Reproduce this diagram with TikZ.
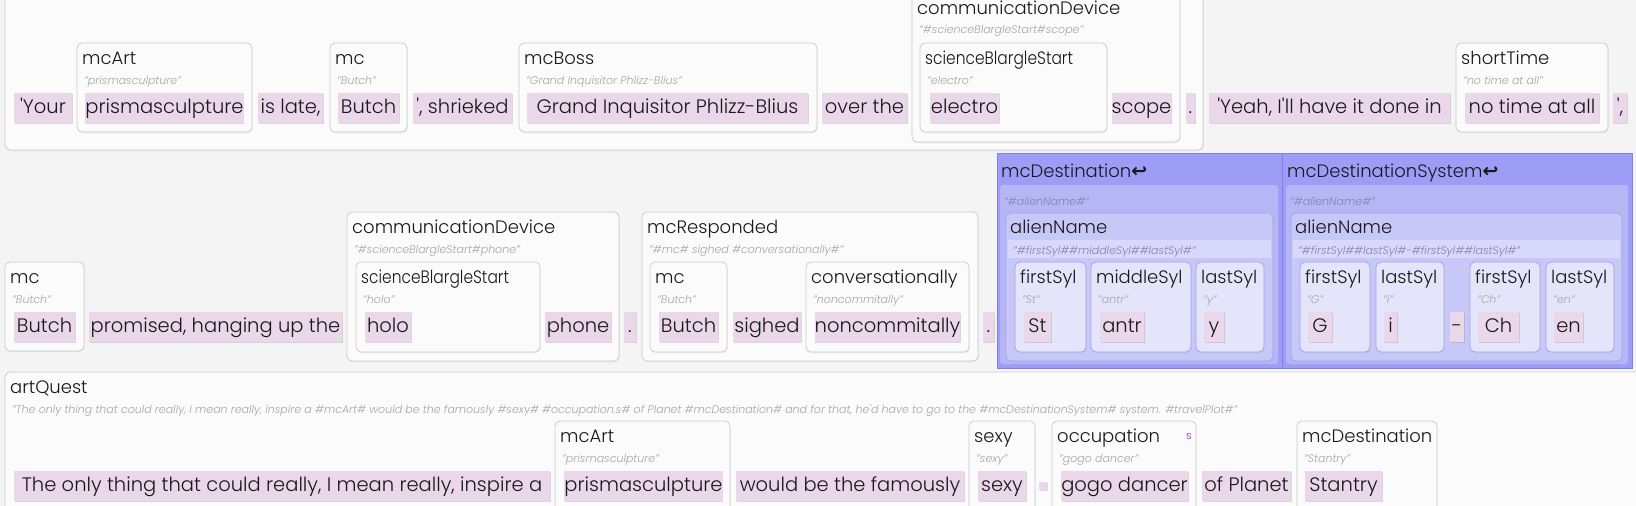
\documentclass[tikz,border=0pt]{standalone}
\usepackage{fontspec}
\usepackage{graphicx}
\setmainfont{Poppins}[UprightFont=* Light, ItalicFont=* Light Italic]
\newfontfamily\symfont{DejaVu Sans}
\usetikzlibrary{shadows}
\definecolor{bg}{RGB}{244,244,244}
\definecolor{chipc}{RGB}{234,216,234}
\definecolor{boxc}{RGB}{251,251,251}
\definecolor{boxd}{RGB}{204,204,204}
\definecolor{subc}{RGB}{165,165,165}
\definecolor{subb}{RGB}{130,130,175}
\definecolor{txt}{RGB}{25,25,25}
\definecolor{blueA}{RGB}{157,157,247}
\definecolor{blueB}{RGB}{182,182,247}
\definecolor{blueC}{RGB}{200,200,248}
\definecolor{blueD}{RGB}{216,216,250}
\definecolor{blueE}{RGB}{228,228,251}
\definecolor{blueL}{RGB}{128,128,225}
\definecolor{blueM}{RGB}{165,165,232}
\definecolor{purp}{RGB}{150,40,230}
\newcommand\arr{{\symfont\bfseries\fontsize{19}{20}\selectfont\char"21A9}}
\newcommand\q{\textquotesingle}
\newcommand\sbs{\scalebox{0.86}[1]{scienceBlargleStart}}
\tikzset{
  gbox/.style={draw=boxd, fill=boxc, rounded corners=5pt, line width=0.8pt, inner sep=0pt,
    drop shadow={shadow xshift=0.6pt, shadow yshift=-1pt, opacity=0.14}},
  sylbox/.style={draw=blueM, fill=blueE, rounded corners=5pt, line width=0.8pt, inner sep=0pt,
    drop shadow={shadow xshift=0.6pt, shadow yshift=-1pt, opacity=0.12}},
  abox/.style={draw=blueM, fill=blueC, rounded corners=5pt, line width=0.8pt, inner sep=0pt,
    drop shadow={shadow xshift=0.6pt, shadow yshift=-1pt, opacity=0.12}},
  bluebox/.style={draw=blueL, fill=blueA, line width=1pt, inner sep=0pt},
  panel/.style={fill=blueB, rounded corners=3pt, inner sep=0pt},
  band/.style={fill=blueD, inner sep=0pt},
  chip/.style={fill=chipc, inner sep=0pt, minimum height=30pt, text=txt,
    text height=14.5pt, text depth=4pt,
    font=\fontsize{19.5}{22}\selectfont,
    drop shadow={shadow xshift=0.8pt, shadow yshift=-1pt, opacity=0.28}},
  lbl/.style={inner sep=0pt, text=txt, font=\fontsize{18}{20}\selectfont, anchor=base west},
  sub/.style={inner sep=0pt, text=subc, font=\fontsize{11}{12}\selectfont\itshape, anchor=base west},
  subblue/.style={sub, text=subb},
}
% #1 style, #2 name, #3 x1, #4 y1, #5 x2, #6 y2, #7 label, #8 subtitle
\newcommand\bx[8][gbox]{%
  \node[#1, minimum width={(#5-#3)*1pt}, minimum height={(#6-#4)*1pt}] (#2) at ({(#3+#5)/2},{(#4+#6)/2}) {};
  \node[lbl] (#2-l) at ({#3+5},{#4+21}) {#7};
  \node[sub] (#2-s) at ({#3+7},{#4+41}) {#8};
}
% #1 extra style, #2 name, #3 x1, #4 x2, #5 text
\newcommand\ch[5][]{%
  \node[chip,#1, minimum width={(#4-#3)*1pt}] (#2) at ({(#3+#4)/2},{\ct+15}) {#5};
}
\begin{document}
\begin{tikzpicture}[x=1pt,y=-1pt]
\useasboundingbox (0,0) rectangle (1636,506);
\fill[bg] (0,0) rectangle (1636,506);
\clip (0,0) rectangle (1636,506);

% ---------- row 1 ----------
\def\ct{93}
\bx{r1}{5}{-40}{1203}{150}{}{}
\ch{w1}{14}{72}{\q Your}
\bx{mcartA}{77}{43}{252}{132}{mcArt}{"prismasculpture"}
\ch{w2}{86}{243}{prismasculpture}
\ch{w3}{258}{323}{is late,}
\bx{mcA}{330}{43}{407}{132}{mc}{"Butch"}
\ch{w4}{338}{399}{Butch}
\ch{w5}{413}{512}{\q, shrieked}
\bx{boss}{519}{43}{817}{132}{mcBoss}{"Grand Inquisitor Phlizz-Blius"}
\ch{w6}{527}{808}{Grand Inquisitor Phlizz-Blius}
\ch{w7}{822}{907}{over the}
\bx{cdA}{912}{-7}{1180}{142}{communicationDevice}{"\#scienceBlargleStart\#scope"}
\bx{sbA}{920}{43}{1107}{132}{\sbs}{"electro"}
\ch{w8}{930}{999}{electro}
\ch{w9}{1112}{1171}{scope}
\ch{w10}{1186}{1195}{.}
\ch{w11}{1209}{1450}{\q Yeah, I\q ll have it done in}
\bx{st}{1456}{43}{1608}{132}{shortTime}{"no time at all"}
\ch{w12}{1465}{1599}{no time at all}
\ch{w13}{1613}{1627}{\q,}

% ---------- row 2 ----------
\def\ct{312}
\bx{mcB}{5}{262}{84}{351}{mc}{"Butch"}
\ch{v1}{14}{75}{Butch}
\ch{v2}{89}{342}{promised, hanging up the}
\bx{cdB}{347}{212}{619}{361}{communicationDevice}{"\#scienceBlargleStart\#phone"}
\bx{sbB}{356}{262}{540}{352}{\sbs}{"holo"}
\ch{v3}{365}{411}{holo}
\ch{v4}{545}{611}{phone}
\ch{v5}{624}{636}{.}
\bx{resp}{642}{212}{978}{361}{mcResponded}{"\#mc\# sighed \#conversationally\#"}
\bx{mcC}{650}{262}{727}{352}{mc}{"Butch"}
\ch{v6}{659}{718}{Butch}
\ch{v7}{733}{801}{sighed}
\bx{conv}{806}{262}{969}{352}{conversationally}{"noncommitally"}
\ch{v8}{815}{960}{noncommitally}
\ch{v9}{983}{994}{.}

% ---------- blue area ----------
\node[bluebox, minimum width=285pt, minimum height=215pt] (dest) at (1139.5,260.5) {};
\node[bluebox, minimum width=350pt, minimum height=215pt] (dsys) at (1457,260.5) {};
\node[lbl] (dest-l) at (1001,177) {mcDestination\arr};
\node[lbl] (dsys-l) at (1287,177) {mcDestinationSystem\arr};
\node[panel, minimum width=278pt, minimum height=179pt] (dest-p) at (1139,274.5) {};
\node[panel, minimum width=342pt, minimum height=179pt] (dsys-p) at (1457,274.5) {};
\node[subblue] (dest-s) at (1004,205) {"\#alienName\#"};
\node[subblue] (dsys-s) at (1290,205) {"\#alienName\#"};
\node[abox, minimum width=267pt, minimum height=148pt] (anA) at (1139.5,287) {};
\node[abox, minimum width=331pt, minimum height=148pt] (anB) at (1456.5,287) {};
\node[band, minimum width=263pt, minimum height=18pt] (anA-b) at (1139.5,249) {};
\node[band, minimum width=327pt, minimum height=18pt] (anB-b) at (1456.5,249) {};
\node[lbl] (anA-l) at (1010,233) {alienName};
\node[lbl] (anB-l) at (1295,233) {alienName};
\node[subblue] (anA-s) at (1013,254) {"\#firstSyl\#\#middleSyl\#\#lastSyl\#"};
\node[subblue] (anB-s) at (1298,254) {"\#firstSyl\#\#lastSyl\#-\#firstSyl\#\#lastSyl\#"};
\def\ct{312}
\bx[sylbox]{s1}{1015}{262}{1086}{352}{firstSyl}{"St"}
\ch{x1}{1024}{1051}{St}
\bx[sylbox]{s2}{1091}{262}{1191}{352}{middleSyl}{"antr"}
\ch{x2}{1100}{1144}{antr}
\bx[sylbox]{s3}{1196}{262}{1264}{352}{lastSyl}{"y"}
\ch{x3}{1204}{1224}{y}
\bx[sylbox]{s4}{1300}{262}{1370}{352}{firstSyl}{"G"}
\ch{x4}{1308}{1332}{G}
\bx[sylbox]{s5}{1376}{262}{1444}{352}{lastSyl}{"i"}
\ch{x5}{1384}{1397}{i}
\ch{x6}{1450}{1464}{-}
\bx[sylbox]{s6}{1470}{262}{1540}{352}{firstSyl}{"Ch"}
\ch{x7}{1478}{1519}{Ch}
\bx[sylbox]{s7}{1546}{262}{1614}{352}{lastSyl}{"en"}
\ch{x8}{1554}{1583}{en}

% ---------- row 3 ----------
\def\ct{471}
\bx{aq}{5}{372}{1680}{540}{artQuest}{"The only thing that could really, I mean really, inspire a \#mcArt\# would be the famously \#sexy\# \#occupation.s\# of Planet \#mcDestination\# and for that, he\q d have to go to the \#mcDestinationSystem\# system. \#travelPlot\#"}
\ch{u1}{14}{550}{The only thing that could really, I mean really, inspire a}
\bx{mcartB}{555}{421}{730}{520}{mcArt}{"prismasculpture"}
\ch{u2}{565}{722}{prismasculpture}
\ch{u3}{736}{964}{would be the famously}
\bx{sexy}{969}{421}{1035}{520}{sexy}{"sexy"}
\ch{u4}{978}{1026}{sexy}
\node[chip, minimum width=8pt, minimum height=8pt, text height=0pt, text depth=0pt] (tiny) at (1043,486) {};
\bx{occ}{1052}{421}{1196}{520}{occupation}{"gogo dancer"}
\node[inner sep=0pt, text=purp, font=\fontsize{11}{12}\selectfont, anchor=base] (occ-m) at (1189,439) {s};
\ch{u5}{1061}{1188}{gogo dancer}
\ch{u6}{1202}{1291}{of Planet}
\bx{dst}{1297}{421}{1437}{520}{mcDestination}{"Stantry"}
\ch{u7}{1305}{1382}{Stantry}
\end{tikzpicture}
\end{document}
